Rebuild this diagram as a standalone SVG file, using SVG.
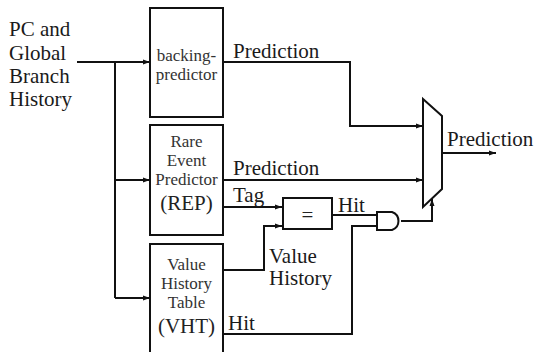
<svg xmlns="http://www.w3.org/2000/svg" width="536" height="352" viewBox="0 0 536 352">
<defs>
<marker id="arr" markerWidth="8" markerHeight="6" refX="7" refY="3" orient="auto" markerUnits="userSpaceOnUse">
<path d="M0,0.5 L7,3 L0,5.5 Z" fill="#111"/>
</marker>
<style>
text{font-family:'Liberation Serif','Times New Roman','DejaVu Serif',Times,serif}
.t{fill:#1a1a1a;font-size:21px}
.b{fill:#333;font-size:17px;text-anchor:middle}
.bl{fill:#222;font-size:21px;text-anchor:middle}
.box{fill:#fff;stroke:#111;stroke-width:2}
.w{fill:none;stroke:#111;stroke-width:2}
.wa{fill:none;stroke:#111;stroke-width:2;marker-end:url(#arr)}
</style>
</defs>
<rect width="536" height="352" fill="#fff"/>
<g id="input-label" font-family="Liberation Serif, serif">
<text class="t" x="9" y="36">PC and</text>
<text class="t" x="9" y="60">Global</text>
<text class="t" x="9" y="83">Branch</text>
<text class="t" x="9" y="106">History</text>
</g>
<g id="connectors">
<path class="wa" d="M77,62 H150"/>
<path class="w" d="M115,62 V298"/>
<path class="wa" d="M115,180 H150"/>
<path class="wa" d="M115,298 H150"/>
<path class="wa" d="M223,62 H350 V126 H423"/>
<path class="wa" d="M223,180 H423"/>
<path class="wa" d="M223,207 H282"/>
<path class="wa" d="M223,270 H264 V226 H282"/>
<path class="w" d="M332,215 H377"/>
<path class="w" d="M223,334 H352 V226 H377"/>
<path class="wa" d="M401,221 H432 V199"/>
<path class="wa" d="M442,153 H496"/>
</g>
<g id="backing-predictor">
<rect class="box" x="150" y="8" width="73" height="109"/>
<text class="b" x="186.5" y="61">backing-</text>
<text class="b" x="186.5" y="80">predictor</text>
</g>
<g id="rep">
<rect class="box" x="150" y="125" width="73" height="110"/>
<text class="b" x="186.5" y="147">Rare</text>
<text class="b" x="186.5" y="166">Event</text>
<text class="b" x="186.5" y="185">Predictor</text>
<text class="bl" x="186.5" y="210">(REP)</text>
</g>
<g id="vht">
<rect class="box" x="150" y="244" width="73" height="112"/>
<text class="b" x="186.5" y="270">Value</text>
<text class="b" x="186.5" y="289">History</text>
<text class="b" x="186.5" y="308">Table</text>
<text class="bl" x="186.5" y="333">(VHT)</text>
</g>
<g id="comparator">
<rect class="box" x="283" y="198" width="49" height="31"/>
<text class="bl" x="307.5" y="222">=</text>
</g>
<g id="and-gate">
<path class="box" d="M377,212 H392 A9.5,9.5 0 0 1 392,230 H377 Z"/>
</g>
<g id="mux">
<polygon class="box" points="423,99 442,116 442,189 423,207"/>
</g>
<g id="labels">
<text class="t" x="233" y="58">Prediction</text>
<text class="t" x="233" y="175">Prediction</text>
<text class="t" x="233" y="202">Tag</text>
<text class="t" x="338" y="212">Hit</text>
<text class="t" x="269" y="263">Value</text>
<text class="t" x="269" y="285">History</text>
<text class="t" x="228" y="330">Hit</text>
<text class="t" x="447" y="146">Prediction</text>
</g>
</svg>
